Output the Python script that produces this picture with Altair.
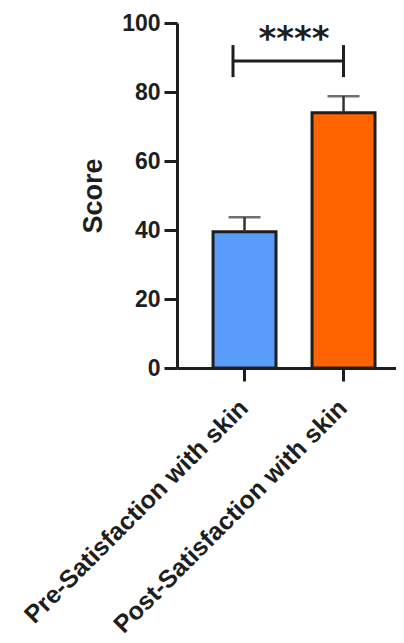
import altair as alt
import pandas as pd

categories = ["Pre-Satisfaction with skin", "Post-Satisfaction with skin"]
means = [39.5, 74]
errors = [4.2, 4.8]
colors = ["#5A9CFA", "#FF6400"]
y_ticks = [0, 20, 40, 60, 80, 100]
sig_label = "****"
bracket_y = 89
bracket_lo = 84.3
bracket_hi = 93.6
stars_y = 97

df = pd.DataFrame({"cat": categories, "mean": means, "err": errors, "color": colors})
df["upper"] = df["mean"] + df["err"]

brk = pd.DataFrame({"a": [categories[0]], "b": [categories[1]], "y": [bracket_y],
                    "lo": [bracket_lo], "hi": [bracket_hi], "stars_y": [stars_y], "label": [sig_label]})

FONT = "Liberation Sans"
INK = "#1e1e1e"

xscale = alt.Scale(domain=categories, paddingInner=0.364, paddingOuter=0.288, align=0.632)
yscale = alt.Scale(domain=[0, 100], nice=False)

x = alt.X("cat:N", sort=categories, scale=xscale,
          axis=alt.Axis(title=None, labelAngle=-45, labelAlign="right", labelBaseline="top",
                        labelPadding=14, labelOffset=-9, labelFontSize=25, labelLimit=0))
y = alt.Y("mean:Q", scale=yscale,
          axis=alt.Axis(values=y_ticks, title="Score", titleFontSize=27, titlePadding=14,
                        labelPadding=4))

bars = alt.Chart(df).mark_bar(stroke=INK, strokeWidth=3).encode(
    x=x, y=y, color=alt.Color("color:N", scale=None)
)

err_line = alt.Chart(df).mark_rule(color="#333333", strokeWidth=2.5).encode(
    x=alt.X("cat:N", sort=categories, scale=xscale), y="mean:Q", y2="upper:Q"
)
err_cap = alt.Chart(df).mark_tick(color="#333333", thickness=2.5, size=32, orient="horizontal").encode(
    x=alt.X("cat:N", sort=categories, scale=xscale), y="upper:Q"
)

br_h = alt.Chart(brk).mark_rule(color=INK, strokeWidth=3).encode(
    x=alt.X("a:N", scale=xscale, bandPosition=0.317),
    x2=alt.X2("b:N", bandPosition=0.5),
    y="y:Q",
)
br_l = alt.Chart(brk).mark_rule(color=INK, strokeWidth=3).encode(
    x=alt.X("a:N", scale=xscale, bandPosition=0.317), y="lo:Q", y2="hi:Q"
)
br_r = alt.Chart(brk).mark_rule(color=INK, strokeWidth=3).encode(
    x=alt.X("b:N", scale=xscale, bandPosition=0.5), y="lo:Q", y2="hi:Q"
)
stars = alt.Chart(brk).mark_text(font="DejaVu Sans", fontWeight="bold", fontSize=34,
                                 color=INK, baseline="middle", align="center", dx=-18, dy=7).encode(
    x=alt.X("b:N", scale=xscale, bandPosition=0), y="stars_y:Q", text="label:N"
)

chart = alt.layer(bars, err_line, err_cap, br_h, br_l, br_r, stars).properties(
    width=219, height=345,
    autosize=alt.AutoSizeParams(type="none"),
    padding={"left": 169, "top": 15, "right": 0, "bottom": 275},
).configure_view(stroke=None).configure_axis(
    grid=False, domainColor=INK, domainWidth=3, tickColor=INK, tickWidth=3, tickSize=13,
    labelFont=FONT, labelFontWeight="bold", labelFontSize=23, labelColor=INK,
    titleFont=FONT, titleFontWeight="bold", titleColor=INK,
)

chart.save("out.html", embed_options={"renderer": "svg", "actions": False})
